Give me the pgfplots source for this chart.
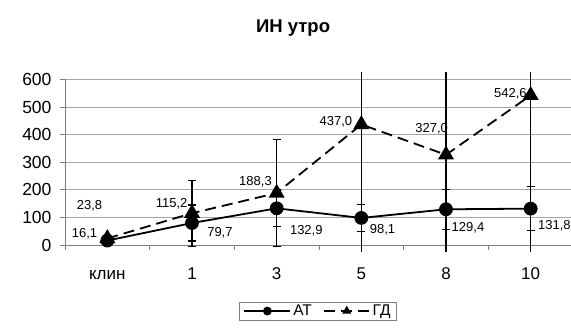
\documentclass[border=0pt]{standalone}
\usepackage{pgfplots}
\pgfplotsset{compat=1.18}
\usepackage{fontspec}
\setmainfont{Liberation Sans}
\begin{document}
\begin{tikzpicture}[x=1pt,y=1pt]
\useasboundingbox (0,0) rectangle (571,329);
\begin{axis}[
  at={(65pt,84pt)}, anchor=south west,
  scale only axis, width=508pt, height=165.5pt,
  xmin=-0.5, xmax=5.5, ymin=0, ymax=600,
  clip=false,
  ytick={0,100,...,600},
  ymajorgrids, grid style={gray!70, line width=0.8pt},
  axis x line*=bottom, axis y line*=left,
  axis line style={gray, line width=0.8pt},
  tick style={gray, line width=0.8pt},
  major tick length=5pt, tick align=outside,
  xtick={-0.5,0.5,...,5.5}, xticklabels={},
  extra x ticks={0,1,2,3,4,5},
  extra x tick labels={клин,1,3,5,8,10},
  extra x tick style={major tick length=0pt, grid=none,
     xticklabel style={anchor=base, yshift=-35pt}},
  /pgf/number format/assume math mode=true,
  yticklabel style={font=\fontsize{17.5}{20}\selectfont, xshift=-5pt},
  xticklabel style={font=\fontsize{17}{20}\selectfont},
  title={\bfseries ИН утро},
  title style={at={(0.449,1)}, anchor=base, yshift=41pt, font=\fontsize{18.5}{22}\selectfont},
  legend style={at={(0.498,-0.343)}, anchor=north, legend columns=2, draw=gray,
     font=\fontsize{15.5}{17}\selectfont, inner xsep=4pt, inner ysep=1pt,
     /tikz/every even column/.append style={column sep=9pt}},
  legend image code/.code={\draw[mark repeat=2,mark phase=2,#1, mark size=3.5pt] plot coordinates {(0pt,0pt) (23pt,0pt) (46pt,0pt)};},
]
% AT
\addplot[black, solid, line width=1.8pt, mark=*, mark size=6pt,
  error bars/.cd, y dir=both, y explicit,
  error bar style={solid, line width=1.2pt, black},
  error mark options={rotate=90, mark size=4pt, line width=1.2pt, solid, black}]
  coordinates {
  (0,16.1) +- (0,5)
  (1,79.7) +- (0,65)
  (2,132.9) +- (0,66)
  (3,98.1) +- (0,50)
  (4,129.4) +- (0,72)
  (5,131.8) +- (0,79)
  };
\addlegendentry{АТ}
% ГД
\addplot[black, line width=1.8pt, dash pattern=on 11pt off 6pt, mark=triangle*, mark size=7.5pt,
  mark options={solid},
  error bars/.cd, y dir=both, y explicit,
  error bar style={solid, line width=1.2pt, black},
  error mark options={rotate=90, mark size=4pt, line width=1.2pt, solid, black}]
  coordinates {
  (0,23.8) +- (0,8)
  (1,115.2) +- (0,120)
  (2,188.3) +- (0,195)
  (3,437.0)
  (4,327.0)
  (5,542.6)
  };
\addlegendentry{ГД}
% ГД error bars that run past the plot area (no caps)
\addplot[black, only marks, mark=none, forget plot,
  error bars/.cd, y dir=both, y explicit, error mark=none,
  error bar style={solid, line width=1.4pt, black}]
  coordinates {
  (3,437.0) += (0,190) -= (0,462)
  (4,327.0) += (0,300) -= (0,352)
  (5,542.6) += (0,84.4) -= (0,567.6)
  };
% data labels
\begin{scope}[every node/.style={font=\fontsize{13}{15}\selectfont, inner sep=0pt}]
\node at (axis cs:-0.21,141) {23,8};
\node at (axis cs:-0.27,40) {16,1};
\node at (axis cs:0.76,148) {115,2};
\node at (axis cs:1.33,43) {79,7};
\node at (axis cs:1.75,228) {188,3};
\node at (axis cs:2.35,51) {132,9};
\node at (axis cs:2.70,448) {437,0};
\node at (axis cs:3.25,54) {98,1};
\node at (axis cs:3.83,423) {327,0};
\node at (axis cs:4.26,61) {129,4};
\node at (axis cs:4.76,549) {542,6};
\node at (axis cs:5.28,69) {131,8};
\end{scope}
\end{axis}
\end{tikzpicture}
\end{document}
